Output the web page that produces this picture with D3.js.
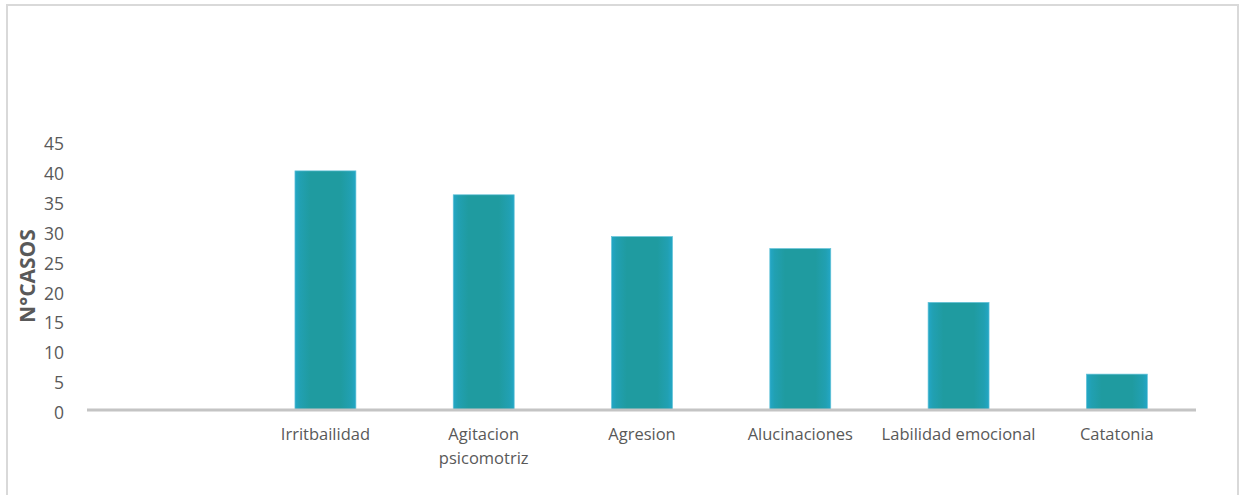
<!DOCTYPE html>
<html>
<head>
<meta charset="utf-8">
<script src="https://cdn.jsdelivr.net/npm/d3@7"></script>
<style>
  html, body { margin: 0; padding: 0; background: #ffffff; }
  svg { display: block; }
  text { font-family: "Open Sans", "Noto Sans", sans-serif; fill: #595959; }
</style>
</head>
<body>
<svg id="chart" width="1240" height="495"></svg>
<script>
// Symptom categories (first slot is intentionally left blank)
const categories = ["", "Irritbailidad", "Agitacion psicomotriz", "Agresion", "Alucinaciones", "Labilidad emocional", "Catatonia"];
// Number of cases per symptom
const casos = [null, 40, 36, 29, 27, 18, 6];
// Y axis ticks
const yTicks = [0, 5, 10, 15, 20, 25, 30, 35, 40, 45];
// Multi-line category labels
const labelLines = {
  "Agitacion psicomotriz": ["Agitacion", "psicomotriz"]
};

const svg = d3.select("#chart");

// Outer frame
svg.append("path")
  .attr("d", "M7,495 V5 H1238 V495")
  .attr("fill", "none")
  .attr("stroke", "#d9d9d9")
  .attr("stroke-width", 2);

const x = d3.scaleBand()
  .domain(categories)
  .range([88, 1196])
  .paddingInner(0.615)
  .paddingOuter(0.3075);

const y = d3.scaleLinear()
  .domain([0, 45])
  .range([410, 141]);

// Bar fill: thin bluish edges, teal body
const defs = svg.append("defs");
const grad = defs.append("linearGradient")
  .attr("id", "barFill")
  .attr("x1", "0%").attr("x2", "100%")
  .attr("y1", "0%").attr("y2", "0%");
grad.append("stop").attr("offset", "0%").attr("stop-color", "#23a7c6");
grad.append("stop").attr("offset", "8%").attr("stop-color", "#21a0b2");
grad.append("stop").attr("offset", "25%").attr("stop-color", "#1f9ba0");
grad.append("stop").attr("offset", "75%").attr("stop-color", "#1f9ba0");
grad.append("stop").attr("offset", "92%").attr("stop-color", "#21a0b2");
grad.append("stop").attr("offset", "100%").attr("stop-color", "#23a7c6");

const data = categories.map((c, i) => ({ cat: c, val: casos[i] }))
  .filter(d => d.val !== null);

svg.append("g").selectAll("rect")
  .data(data)
  .join("rect")
  .attr("x", d => x(d.cat))
  .attr("y", d => y(d.val))
  .attr("width", x.bandwidth())
  .attr("height", d => y(0) - y(d.val))
  .attr("fill", "url(#barFill)")
  .attr("stroke", "#62c2d8")
  .attr("stroke-width", 0.7);

// Y axis labels (no axis line, no tick marks)
const yAxis = d3.axisLeft(y).tickValues(yTicks).tickSize(0).tickPadding(0);
const gy = svg.append("g")
  .attr("transform", "translate(64,3)")
  .call(yAxis);
gy.select(".domain").remove();
gy.selectAll("text")
  .style("font-family", "\"Open Sans\", \"Noto Sans\", sans-serif")
  .style("font-size", "17.5px")
  .attr("fill", "#595959");

// X axis baseline
svg.append("line")
  .attr("x1", 87).attr("x2", 1196)
  .attr("y1", y(0)).attr("y2", y(0))
  .attr("stroke", "#c4c4c4")
  .attr("stroke-width", 3);

// Category labels
const xAxis = d3.axisBottom(x).tickSize(0).tickPadding(0).tickFormat(() => "");
const gx = svg.append("g")
  .attr("transform", `translate(0,${y(0)})`)
  .call(xAxis);
gx.select(".domain").remove();
gx.selectAll(".tick").each(function(d) {
  const lines = labelLines[d] || [d];
  const t = d3.select(this).select("text")
    .attr("y", 0)
    .attr("dy", null)
    .style("font-family", "\"Open Sans\", \"Noto Sans\", sans-serif")
    .style("font-size", "16.5px")
    .attr("fill", "#595959");
  t.selectAll("tspan")
    .data(lines)
    .join("tspan")
    .attr("x", 0)
    .attr("y", (l, i) => 30 + i * 24)
    .text(l => l);
});

// Y axis title
svg.append("text")
  .attr("transform", "translate(35,276) rotate(-90)")
  .attr("text-anchor", "middle")
  .style("font-size", "21px")
  .style("font-weight", "bold")
  .attr("fill", "#595959")
  .text("N°CASOS");
</script>
</body>
</html>
